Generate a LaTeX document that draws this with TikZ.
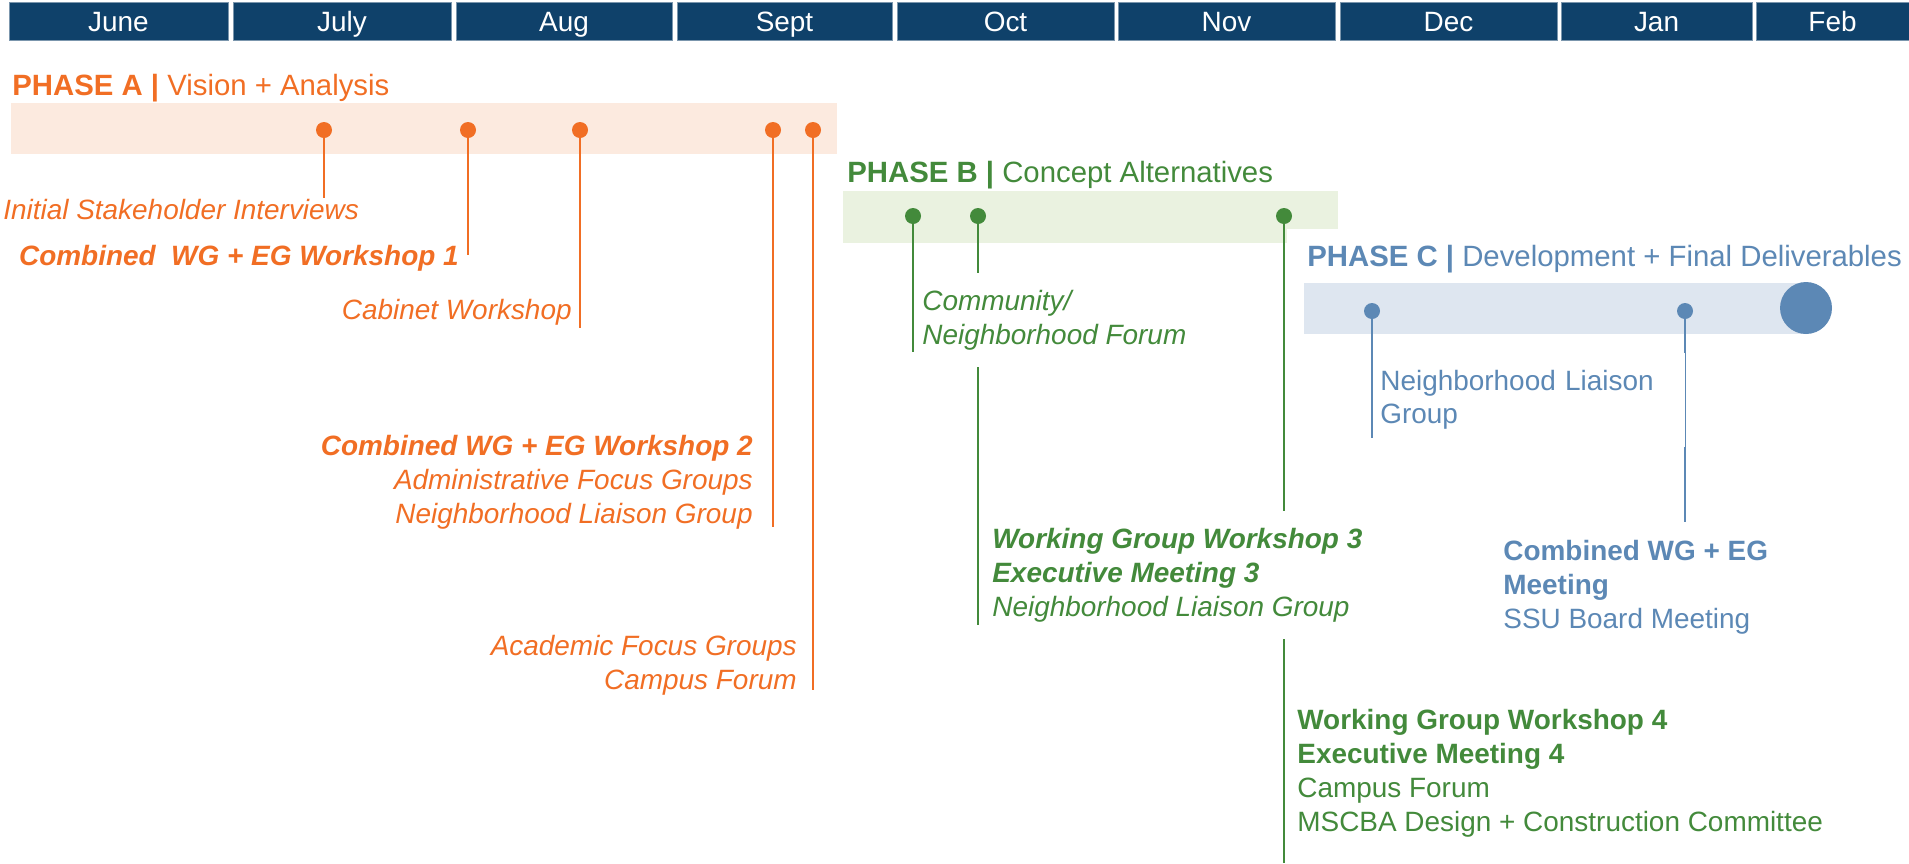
\documentclass[tikz,border=0pt]{standalone}
\usepackage{fontspec}
\setmainfont{Liberation Sans}
\usepackage{xcolor}
\usetikzlibrary{calc}

\definecolor{monthblue}{RGB}{15,65,106}
\definecolor{phaseA}{RGB}{241,110,36}
\definecolor{bandA}{RGB}{252,234,223}
\definecolor{phaseB}{RGB}{67,138,59}
\definecolor{bandB}{RGB}{234,242,224}
\definecolor{phaseC}{RGB}{92,136,181}
\definecolor{bandC}{RGB}{222,230,240}

\newcommand{\fsize}{\fontsize{15.9}{19.3}\selectfont}
\newcommand{\tsize}{\fontsize{16.7}{20}\selectfont}

\tikzset{
    every node/.style={font=\fsize, inner sep=0pt},
    monthlabel/.style={anchor=base, text=white},
    title/.style={anchor=base west, font=\tsize},
    dot/.style={circle, minimum size=0.32cm},
    stem/.style={line width=0.05cm},
    labA/.style={text=phaseA, font=\fsize\itshape},
    labB/.style={text=phaseB, font=\fsize\itshape},
    labC/.style={text=phaseC},
    blank/.style={fill=white, inner xsep=0.08cm, inner ysep=0.34cm}
}

\begin{document}
\begin{tikzpicture}[x=0.02cm, y=-0.02cm]
    \useasboundingbox (0,0) rectangle (1909,863);

    % =====================
    % Months
    % =====================
    \foreach \m/\xa/\xb in {June/9/228, July/233/451, Aug/456/672, Sept/677/892, Oct/897/1114, Nov/1118/1335, Dec/1340/1557, Jan/1561/1752, Feb/1756/1909} {
        \filldraw[fill=monthblue, draw=monthblue!55!white, line width=0.02cm] (\xa,2) rectangle (\xb,40);
        \node[monthlabel] (\m) at ({(\xa+\xb)/2},31) {\m};
    }

    % =====================
    % Phase A
    % =====================
    \fill[bandA] (11,103) rectangle (837,154);
    \node[title, text=phaseA] (titleA) at (12,95) {\textbf{PHASE A |} Vision + Analysis};
    \foreach \n/\x/\e in {a1/324/198, a2/468/255, a3/580/328, a4/773/527, a5/813/690} {
        \node[dot, fill=phaseA] (\n) at (\x,130) {};
        \coordinate (\n end) at (\x,\e);
        \draw[stem, phaseA] (\n) -- (\n end);
    }
    \node[labA, anchor=base west] (interviews) at (3,219) {Initial Stakeholder Interviews};
    \node[labA, anchor=base east] (workshop1) at (459,265) {\textbf{Combined~ WG + EG Workshop 1}};
    \node[labA, anchor=base east] (cabinet) at (572,319) {Cabinet Workshop};
    \node[labA, anchor=base east, align=right] (workshop2) at (753,523) {\textbf{Combined WG + EG Workshop 2}\\Administrative Focus Groups\\Neighborhood Liaison Group};
    \node[labA, anchor=base east, align=right] (academic) at (797,689) {Academic Focus Groups\\Campus Forum};

    % =====================
    % Phase B
    % =====================
    \fill[bandB] (843,191) rectangle (1338,243);
    \node[title, text=phaseB] (titleB) at (847,182) {\textbf{PHASE B |} Concept Alternatives};
    \foreach \n/\x/\e in {b1/913/352, b2/978/625, b3/1284/863} {
        \node[dot, fill=phaseB] (\n) at (\x,216) {};
        \coordinate (\n end) at (\x,\e);
        \draw[stem, phaseB] (\n) -- (\n end);
    }
    \node[labB, blank, inner xsep=0.06cm, anchor=base west, align=left] (forum) at (919,344) {Community/\\Neighborhood Forum};
    \node[labB, blank, anchor=base west, align=left] (workshop3) at (988,616) {\textbf{Working Group Workshop 3}\\\textbf{Executive Meeting 3}\\Neighborhood Liaison Group};
    \node[text=phaseB, anchor=base west, align=left] (workshop4) at (1297,831) {\textbf{Working Group Workshop 4}\\\textbf{Executive Meeting 4}\\Campus Forum\\MSCBA Design + Construction Committee};

    % =====================
    % Phase C
    % =====================
    \node[title, blank, inner xsep=0.4cm, inner ysep=0.32cm, text=phaseC] (titleC) at (1287,266) {\textbf{PHASE C |} Development + Final Deliverables};
    \fill[bandC] (1304,283) rectangle (1806,334);
    \node[circle, fill=phaseC, minimum size=1.04cm] (finish) at (1806,308) {};
    \foreach \n/\x/\e in {c1/1372/438, c2/1685/522} {
        \node[dot, fill=phaseC] (\n) at (\x,311) {};
        \coordinate (\n end) at (\x,\e);
        \draw[stem, phaseC] (\n) -- (\n end);
    }
    \node[labC, blank, anchor=base west, text width=6.08cm, align=left] (liaison) at (1376,390) {Neighborhood Liaison\\Group};
    \draw[phaseC, line width=0.02cm] (c2 |- liaison.north) -- (c2 |- liaison.south);
    \node[labC, anchor=base west, align=left] (board) at (1503,628) {\textbf{Combined WG + EG}\\\textbf{Meeting}\\SSU Board Meeting};
\end{tikzpicture}
\end{document}
